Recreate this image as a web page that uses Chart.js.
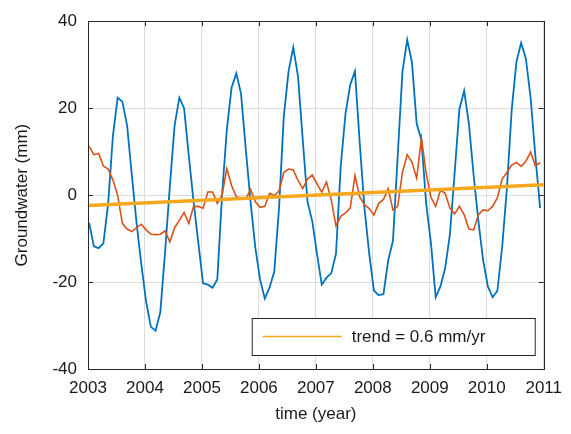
<!DOCTYPE html>
<html>
<head>
<meta charset="utf-8">
<script src="https://cdn.jsdelivr.net/npm/chart.js@4"></script>
<style>
  html, body { margin: 0; padding: 0; background: #fff; }
  #wrap { width: 571px; height: 434px; position: relative; }
</style>
</head>
<body>
<div id="wrap"><canvas id="gw"></canvas></div>
<script>
/* DATA */
const START_YEAR = 2003;
const xTicks = [2003, 2004, 2005, 2006, 2007, 2008, 2009, 2010, 2011];
const yTicks = [-40, -20, 0, 20, 40];

// monthly groundwater, Jan 2003 .. Dec 2010 (mm)
const seasonal = [
  -6.4, -11.8, -12.2, -11.1, -2, 13.5, 22.4, 21.5, 16, 4.5, -6.5, -16,
  -24.5, -30.3, -31.2, -26.9, -13, 2, 16, 22.4, 20, 9, -1.5, -11,
  -20.3, -20.6, -21.3, -19.4, 0, 15, 24.7, 28, 23.3, 10.5, -1.5, -12,
  -19.4, -23.8, -21.3, -17.6, -3, 18, 28.4, 34, 27.3, 12.7, -1.5, -6,
  -13.5, -20.6, -19, -18, -13.5, 6.7, 18.7, 25.4, 28.5, 12, -3, -13.5,
  -22, -23, -22.8, -15, -10.5, 9, 28.4, 35.7, 30.6, 16.4, 12.7, -2,
  -11, -23.5, -21, -16.8, -9, 5.2, 19.8, 24, 16.4, 4.5, -6, -15,
  -21, -23.5, -22, -12, 1.5, 19.4, 30.6, 35, 31.4, 22.4, 9, -3
];
const residual = [
  11.2, 9.3, 9.6, 6.7, 6, 3.5, 0, -6.5, -7.8, -8.4, -7.5, -6.7,
  -8, -9, -9.1, -9, -8.2, -10.8, -7.5, -5.8, -4, -6.5, -2.6, -2.6,
  -3, 0.7, 0.7, -1.9, 0, 6.1, 2.2, -0.4, -0.7, -0.9, 1.3, -1.5,
  -2.8, -2.6, 0.4, -0.1, 0.9, 5.2, 6, 5.8, 3.4, 1.5, 3.7, 4.6,
  2.6, 0.7, 3, -1.1, -7.1, -4.9, -4.1, -3, 4.5, -0.4, -2.2, -3.1,
  -4.6, -1.9, -1, 1.5, -3.4, -2.6, 5.2, 9.3, 7.6, 3.9, 13.1, 5,
  -0.5, -2.6, 1.1, 0.4, -3, -4.3, -2.6, -4.5, -7.8, -8, -4.5, -3.4,
  -3.6, -2.6, -0.6, 3.7, 5.2, 6.9, 7.5, 6.6, 7.8, 9.9, 6.7, 7.5
];
const trendX = [2003, 2011];
const trendY = [-2.4, 2.4];
const trendLabel = "trend = 0.6 mm/yr";

const FONT = "'Liberation Sans', Arial, Helvetica, sans-serif";
const AXIS = "#262626";
const TEXT = "#1a1a1a";

/* BUILD POINTS */
function monthly(vals) {
  return vals.map((v, i) => ({ x: START_YEAR + i / 12 + 0.02, y: v }));
}

/* FRAME + INWARD TICKS + LEGEND */
const framePlugin = {
  id: "frame",
  afterDatasetsDraw(chart) {
    const { ctx, chartArea: a, scales } = chart;
    ctx.save();
    ctx.strokeStyle = AXIS;
    ctx.lineWidth = 1;
    ctx.beginPath();
    xTicks.forEach(t => {
      const x = Math.round(scales.x.getPixelForValue(t)) + 0.5;
      ctx.moveTo(x, a.bottom); ctx.lineTo(x, a.bottom - 5);
      ctx.moveTo(x, a.top); ctx.lineTo(x, a.top + 5);
    });
    yTicks.forEach(t => {
      const y = Math.round(scales.y.getPixelForValue(t)) + 0.5;
      ctx.moveTo(a.left, y); ctx.lineTo(a.left + 5, y);
      ctx.moveTo(a.right, y); ctx.lineTo(a.right - 5, y);
    });
    ctx.stroke();
    ctx.strokeRect(Math.round(a.left) + 0.5, Math.round(a.top) + 0.5,
      Math.round(a.right - a.left), Math.round(a.bottom - a.top));

    // legend box, bottom right inside the axes
    const bx = a.right - 292, by = a.bottom - 51, bw = 283, bh = 37;
    ctx.fillStyle = "#fff";
    ctx.fillRect(bx, by, bw, bh);
    ctx.strokeStyle = AXIS;
    ctx.strokeRect(bx + 0.5, by + 0.5, bw, bh);
    const ds = chart.data.datasets[0];
    ctx.strokeStyle = ds.borderColor;
    ctx.lineWidth = 1.5;
    ctx.beginPath();
    ctx.moveTo(bx + 11, by + 18.5); ctx.lineTo(bx + 90, by + 18.5);
    ctx.stroke();
    ctx.fillStyle = TEXT;
    ctx.font = "17px " + FONT;
    ctx.textBaseline = "middle";
    ctx.fillText(ds.label, bx + 100, by + 19);
    ctx.restore();
  }
};

new Chart(document.getElementById("gw"), {
  type: "line",
  data: {
    datasets: [
      {
        label: trendLabel,
        data: trendX.map((x, i) => ({ x, y: trendY[i] })),
        borderColor: "#F5A81C",
        borderWidth: 3.5,
        pointRadius: 0
      },
      {
        label: "residual",
        data: monthly(residual),
        borderColor: "#D95319",
        borderWidth: 1.6,
        pointRadius: 0
      },
      {
        label: "groundwater",
        data: monthly(seasonal),
        borderColor: "#0072BD",
        borderWidth: 1.8,
        pointRadius: 0
      }
    ]
  },
  plugins: [framePlugin],
  options: {
    responsive: true,
    maintainAspectRatio: false,
    animation: false,
    layout: { padding: { top: 13, right: 17, left: 8, bottom: 0 } },
    plugins: {
      legend: { display: false },
      tooltip: { enabled: false }
    },
    scales: {
      x: {
        type: "linear",
        min: 2003,
        max: 2011,
        afterBuildTicks: s => { s.ticks = xTicks.map(v => ({ value: v })); },
        afterFit: s => { s.height = 65; },
        border: { display: false },
        grid: { color: "#dcdcdc", lineWidth: 1, drawTicks: false },
        ticks: {
          color: TEXT,
          padding: 9,
          maxRotation: 0,
          autoSkip: false,
          font: { family: FONT, size: 17 },
          callback: v => String(v)
        },
        title: {
          display: true,
          text: "time (year)",
          color: TEXT,
          padding: { top: 3, bottom: 9 },
          font: { family: FONT, size: 17 }
        }
      },
      y: {
        min: -40,
        max: 40,
        afterBuildTicks: s => { s.ticks = yTicks.map(v => ({ value: v })); },
        afterFit: s => { s.width = 80; },
        border: { display: false },
        grid: { color: "#dcdcdc", lineWidth: 1, drawTicks: false },
        ticks: {
          color: TEXT,
          padding: 11,
          font: { family: FONT, size: 17 },
          callback: v => String(v)
        },
        title: {
          display: true,
          text: "Groundwater (mm)",
          color: TEXT,
          padding: { bottom: 4 },
          font: { family: FONT, size: 17 }
        }
      }
    }
  }
});
</script>
</body>
</html>
